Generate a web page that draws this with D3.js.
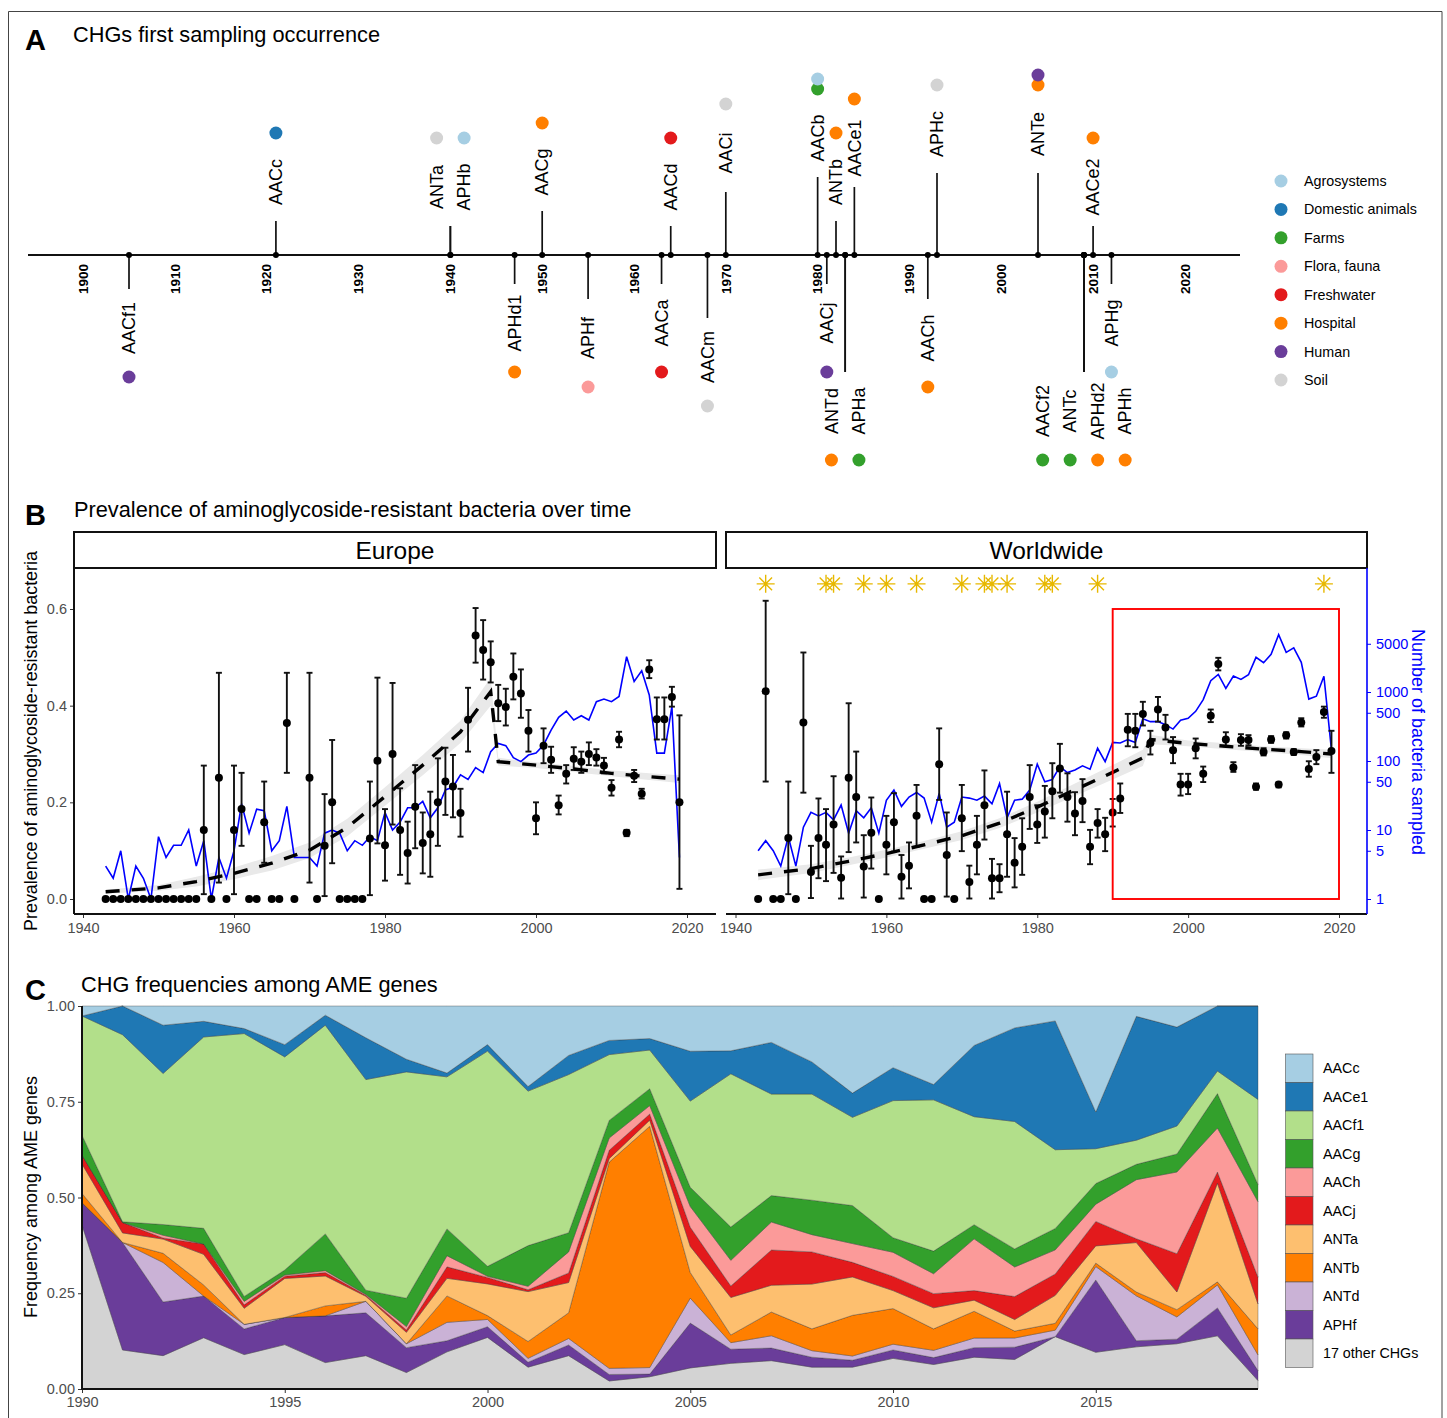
<!DOCTYPE html>
<html>
<head>
<meta charset="utf-8">
<script src="https://cdn.jsdelivr.net/npm/d3@7"></script>
<style>
  body { margin: 0; background: #fff; }
  text { font-family: "Liberation Sans", Arial, sans-serif; }
</style>
</head>
<body>
<svg id="chart" width="1447" height="1418"></svg>
<script>
// panel A: first sampling of each gene
var geneNames = ["AACf1","AACc","ANTa","APHb","APHd1","AACg","APHf","AACa","AACd","AACm","AACi","AACb","AACj","ANTb","ANTd","APHa","AACe1","AACh","APHc","ANTe","AACf2","ANTc","APHd2","APHh","AACe2","APHg"];
var geneYears = [1905,1921,1940,1940,1947,1950,1955,1963,1964,1968,1970,1980,1981,1982,1983,1983,1984,1992,1993,2004,2009,2009,2009,2009,2010,2012];
var geneLevels = [-0.34,0.34,0.29,0.29,-0.29,0.44,-0.44,-0.29,0.29,-0.63,0.63,0.78,-0.29,0.34,-1.17,-1.17,0.68,-0.44,0.82,0.82,-1.17,-1.17,-1.17,-1.17,0.29,-0.29];
var geneHabitats = [["Human"],["Domestic animals"],["Soil"],["Agrosystems"],["Hospital"],["Hospital"],["Flora, fauna"],["Freshwater"],["Freshwater"],["Soil"],["Soil"],["Farms","Agrosystems"],["Human"],["Hospital"],["Hospital"],["Farms"],["Hospital"],["Hospital"],["Soil"],["Hospital","Human"],["Farms"],["Farms"],["Hospital"],["Hospital"],["Hospital"],["Agrosystems"]];
var habitatNames = ["Agrosystems","Domestic animals","Farms","Flora, fauna","Freshwater","Hospital","Human","Soil"];
var habitatColors = ["#A6CEE3","#1F78B4","#33A02C","#FB9A99","#E31A1C","#FF7F00","#6A3D9A","#D3D3D3"];
var timelineTicks = [1900,1910,1920,1930,1940,1950,1960,1970,1980,1990,2000,2010,2020];

// panel B: Europe
var euZeroYears = [1943,1944,1945,1946,1947,1948,1949,1950,1951,1952,1953,1954,1955,1957,1959,1962,1963,1965,1966,1968,1971,1974,1975,1976,1977];
var euYears = [1956,1958,1960,1961,1964,1967,1970,1972,1973,1978,1979,1980,1981,1982,1983,1984,1985,1986,1987,1988,1989,1990,1991,1992,1993,1994,1995,1996,1997,1998,1999,2000,2001,2002,2003,2004,2005,2006,2007,2008,2009,2010,2011,2012,2013,2014,2015,2016,2017,2018,2019];
var euPrev = [.143,.251,.143,.186,.159,.364,.251,.11,.2,.125,.286,.111,.3,.143,.095,.191,.116,.134,.2,.243,.233,.178,.371,.545,.515,.49,.405,.397,.46,.425,.348,.167,.317,.288,.194,.259,.29,.284,.3,.293,.276,.23,.33,.137,.255,.218,.475,.372,.372,.418,.2];
var euLow = [.01,.034,.01,.11,.075,.261,.034,.006,.074,.008,.115,.038,.154,.05,.032,.105,.053,.046,.11,.174,.169,.129,.305,.489,.454,.448,.368,.359,.413,.375,.305,.134,.281,.261,.175,.239,.267,.261,.277,.276,.26,.214,.314,.13,.242,.208,.457,.33,.33,.398,.021];
var euHigh = [.276,.468,.276,.261,.243,.468,.468,.217,.329,.243,.458,.186,.447,.229,.16,.277,.179,.222,.291,.313,.298,.228,.437,.602,.577,.533,.443,.435,.508,.475,.391,.2,.353,.315,.214,.277,.314,.305,.324,.31,.292,.246,.346,.143,.267,.228,.494,.417,.417,.439,.38];
var sampledYears = d3.range(1943, 2020);
var euSampled = [3,2,5,1,3,2,1,8,4,6,6,10,3,7,1,4,2,5,24,9,20,19,5,7,22,4,4,4,3,9,10,9,5,7,6,8,7,18,10,13,21,21,26,15,21,38,42,63,54,80,68,136,180,167,112,98,122,130,171,280,430,530,392,453,392,725,790,725,860,3250,1420,2030,905,130,130,615,4];

// panel B: Worldwide
var wwZeroYears = [1943,1945,1946,1948,1959,1965,1966,1969];
var wwYears = [1944,1947,1949,1950,1951,1952,1953,1954,1955,1956,1957,1958,1960,1961,1962,1963,1964,1967,1968,1970,1971,1972,1973,1974,1975,1976,1977,1978,1979,1980,1981,1982,1983,1984,1985,1986,1987,1988,1989,1990,1991,1992,1993,1994,1995,1996,1997,1998,1999,2000,2001,2002,2003,2004,2005,2006,2007,2008,2009,2010,2011,2012,2013,2014,2015,2016,2017,2018,2019];
var wwPrev = [.43,.126,.365,.056,.126,.112,.154,.044,.251,.211,.067,.137,.112,.159,.046,.069,.172,.279,.091,.167,.035,.112,.194,.043,.043,.134,.075,.108,.211,.154,.181,.223,.27,.211,.177,.203,.108,.157,.134,.179,.208,.35,.348,.383,.323,.392,.355,.308,.237,.237,.312,.259,.379,.486,.33,.272,.329,.329,.232,.304,.33,.237,.339,.304,.365,.269,.294,.387,.306];
var wwLow = [.243,.01,.22,.002,.043,.037,.054,.001,.097,.117,.003,.063,.051,.098,.001,.022,.108,.205,.005,.099,.001,.051,.123,.001,.014,.046,.024,.05,.145,.116,.127,.167,.22,.16,.132,.159,.072,.127,.099,.15,.178,.316,.314,.359,.299,.367,.33,.281,.214,.217,.291,.242,.366,.473,.316,.263,.317,.318,.226,.297,.323,.231,.332,.298,.357,.253,.279,.375,.261];
var wwHigh = [.617,.243,.51,.11,.208,.186,.254,.088,.405,.305,.132,.21,.172,.219,.091,.117,.236,.353,.179,.236,.069,.172,.266,.083,.072,.222,.126,.167,.277,.194,.234,.281,.321,.26,.221,.248,.143,.186,.168,.207,.239,.383,.383,.408,.348,.418,.381,.335,.259,.259,.332,.274,.392,.499,.345,.283,.341,.339,.239,.312,.337,.241,.345,.31,.374,.285,.308,.398,.348];
var wwSampled = [5,7,5,3,8,3,11,18,16,18,14,23,9,19,15,21,9,27,38,22,30,35,29,13,34,11,13,30,29,27,31,24,47,15,27,28,38,90,50,54,83,68,74,85,76,153,98,186,182,204,186,410,372,372,336,290,389,415,525,776,1460,1800,1130,1700,1520,1780,3180,2660,3520,6770,3760,4370,2690,790,870,1690,145];
var starYears = [1944,1952,1953,1957,1960,1964,1970,1973,1974,1976,1981,1982,1988,2018];
var starPrev = 0.652;
var redBoxYears = [1990, 2020];
var redBoxPrev = [0, 0.6];

// fitted segments with their ribbons
var trendYears = [1943,1950,1955,1960,1965,1970,1975,1980,1985,1990,1994,1995,2000,2005,2010,2015,2019];
var euTrend = [.015,.023,.036,.053,.074,.101,.148,.212,.277,.346,.429,.284,.277,.269,.26,.253,.248];
var euTrendLow = [.011,.017,.026,.041,.059,.085,.13,.193,.256,.323,.4,.276,.271,.263,.254,.246,.24];
var euTrendHigh = [.019,.029,.046,.065,.089,.117,.166,.231,.298,.369,.458,.292,.283,.275,.266,.26,.256];
var wwTrend = [.05,.063,.078,.094,.112,.131,.157,.19,.226,.262,.292,.33,.322,.316,.31,.305,.3];
var wwTrendLow = [.039,.054,.07,.086,.104,.122,.147,.179,.213,.247,.275,.32,.316,.31,.304,.298,.291];
var wwTrendHigh = [.061,.072,.086,.102,.12,.14,.167,.201,.239,.277,.309,.34,.328,.322,.316,.312,.309];

// panel C: stacked frequencies, bottom layer first
var freqYears = d3.range(1990, 2020);
var freqNames = ["17 other CHGs","APHf","ANTd","ANTb","ANTa","AACj","AACh","AACg","AACf1","AACe1","AACc"];
var freqColors = ["#D3D3D3","#6A3D9A","#CAB2D6","#FF7F00","#FDBF6F","#E31A1C","#FB9A99","#33A02C","#B2DF8A","#1F78B4","#A6CEE3"];
var freqOther = [.428,.102,.087,.134,.09,.116,.069,.087,.043,.097,.135,.057,.087,.021,.032,.055,.067,.074,.057,.057,.08,.064,.083,.077,.137,.096,.11,.118,.139,.022];
var freqAPHf = [.058,.281,.14,.109,.067,.071,.122,.112,.065,.029,.028,.013,.028,.017,.007,.117,.037,.033,.026,.018,.022,.018,.025,.032,0,.189,.016,.012,.073,.026];
var freqANTd = [0,0,.103,0,.012,0,0,.03,.01,.048,.019,.01,.017,.016,.017,.065,.017,.032,.017,.011,.015,.019,.025,.024,.017,.035,.117,.058,.06,.041];
var freqANTb = [.024,0,.024,.029,0,0,.026,0,0,.069,.01,.044,.067,.539,.63,.067,.02,.062,.057,.106,.093,.056,.07,.018,.018,.009,.01,.019,.008,.068];
var freqANTa = [.077,.025,.037,.08,.042,.102,.078,.013,.03,.046,.083,.13,.079,.009,.016,.068,.098,.07,.117,.1,.047,.055,.029,.03,.073,.045,.129,.046,.258,.065];
var freqAACj = [.023,.027,.003,.027,.009,.006,.009,.003,.006,.03,.017,.005,.025,.022,.016,.05,.03,.092,.084,.038,.037,.037,.025,.06,.056,.064,.01,.1,.029,.07];
var freqAACh = [0,0,.007,0,.009,.003,.005,.002,.009,.029,.003,.009,.055,.032,.022,.054,.067,.073,.045,.049,.063,.052,.135,.077,.063,.045,.154,.213,.115,.197];
var freqAACg = [.052,.002,.028,.041,.013,.013,.096,.011,.074,.07,.026,.106,.05,.046,.044,.05,.087,.069,.09,.099,.038,.059,.037,.047,.056,.054,.04,.047,.09,.045];
var freqAACf1 = [.311,.489,.394,.5,.687,.557,.545,.55,.591,.397,.563,.403,.413,.172,.101,.225,.4,.265,.277,.23,.358,.395,.282,.332,.206,.091,.063,.073,.059,.222];
var freqAACe1 = [0,.075,.126,.041,.013,.032,.026,.109,.033,.01,.017,.012,.05,.037,.03,.13,.06,.135,.084,.063,.086,.04,.186,.244,.337,.096,.323,.258,.17,.244];
var freqAACc = [.026,0,.05,.04,.059,.101,.024,.083,.139,.175,.101,.21,.129,.09,.085,.118,.117,.095,.146,.227,.161,.205,.103,.057,.039,.277,.027,.055,0,0];
var freqSeries = [freqOther,freqAPHf,freqANTd,freqANTb,freqANTa,freqAACj,freqAACh,freqAACg,freqAACf1,freqAACe1,freqAACc];

var svg = d3.select("#chart");
var habitatColor = d3.scaleOrdinal().domain(habitatNames).range(habitatColors);
var tickGrey = "#4d4d4d";

// outer frame runs off the bottom of the page
svg.append("path")
    .attr("d", "M8.5,1418V11.5H1442V1418")
    .attr("fill", "none")
    .attr("stroke", "#444")
    .attr("stroke-width", 1);

function bigLabel(letter, x, y) {
    svg.append("text").text(letter)
        .attr("x", x).attr("y", y)
        .attr("font-size", 29).attr("font-weight", "bold");
}
function panelTitle(txt, x, y) {
    svg.append("text").text(txt)
        .attr("x", x).attr("y", y)
        .attr("font-size", 21.75);
}
bigLabel("A", 25, 50);
panelTitle("CHGs first sampling occurrence", 73, 42);
bigLabel("B", 25, 525);
panelTitle("Prevalence of aminoglycoside-resistant bacteria over time", 74, 517);
bigLabel("C", 25, 1000);
panelTitle("CHG frequencies among AME genes", 81, 992);

/* ---------- A: timeline ---------- */
var timeX = d3.scaleLinear().domain([1894, 2026]).range([28, 1240]);
var levelY = d3.scaleLinear().domain([-1, 1]).range([355, 155]);
var axisY = levelY(0);
var labelGap = 39, dotGap = 88, dotStack = 10, siblingGap = 27.5;

svg.append("line")
    .attr("x1", timeX(1894)).attr("x2", timeX(2026))
    .attr("y1", axisY).attr("y2", axisY)
    .attr("stroke", "#111").attr("stroke-width", 1.8);

svg.selectAll(".yearLabel")
    .data(timelineTicks)
    .enter()
    .append("text")
    .attr("class", "yearLabel")
    .text(function(d) { return d; })
    .attr("transform", function(d) { return "translate(" + timeX(d) + ",279) rotate(-90)"; })
    .attr("text-anchor", "middle")
    .attr("dy", "0.35em")
    .attr("font-size", 13.5)
    .attr("font-weight", "bold");

var genes = geneNames.map(function(name, i) {
    return { name: name, year: geneYears[i], level: geneLevels[i], habitats: geneHabitats[i] };
});
var byYear = d3.group(genes, function(d) { return d.year; });
byYear.forEach(function(list, year) {
    list.forEach(function(g, i) {
        g.x = timeX(year) + (i - (list.length - 1) / 2) * siblingGap;
        g.side = g.level > 0 ? -1 : 1;
        g.stemEnd = levelY(g.level);
    });
});

svg.selectAll(".stem")
    .data(genes)
    .enter()
    .append("line")
    .attr("class", "stem")
    .attr("x1", function(d) { return timeX(d.year); })
    .attr("x2", function(d) { return timeX(d.year); })
    .attr("y1", axisY)
    .attr("y2", function(d) { return d.stemEnd; })
    .attr("stroke", "#111")
    .attr("stroke-width", 1.7);

svg.selectAll(".stemDot")
    .data(genes)
    .enter()
    .append("circle")
    .attr("class", "stemDot")
    .attr("cx", function(d) { return timeX(d.year); })
    .attr("cy", axisY)
    .attr("r", 3)
    .attr("fill", "#000");

svg.selectAll(".geneLabel")
    .data(genes)
    .enter()
    .append("text")
    .attr("class", "geneLabel")
    .text(function(d) { return d.name; })
    .attr("transform", function(d) {
        return "translate(" + d.x + "," + (d.stemEnd + d.side * labelGap) + ") rotate(-90)";
    })
    .attr("text-anchor", "middle")
    .attr("dy", "0.35em")
    .attr("font-size", 18);

genes.forEach(function(g) {
    g.habitats.forEach(function(h, i) {
        svg.append("circle")
            .attr("cx", g.x)
            .attr("cy", g.stemEnd + g.side * (dotGap + i * dotStack))
            .attr("r", 6.5)
            .attr("fill", habitatColor(h));
    });
});

var habitatLegendY = d3.scalePoint().domain(habitatNames).range([181, 380]);
habitatNames.forEach(function(h) {
    svg.append("circle")
        .attr("cx", 1281).attr("cy", habitatLegendY(h))
        .attr("r", 6.5).attr("fill", habitatColor(h));
    svg.append("text").text(h)
        .attr("x", 1304).attr("y", habitatLegendY(h))
        .attr("dy", "0.35em")
        .attr("font-size", 14.3);
});

/* ---------- B: prevalence panels ---------- */
var prevY = d3.scaleLinear().domain([0, 0.6]).range([899, 609]);
var sampledY = d3.scaleLog().domain([1, 1000]).range([899, 692]);
var panelTop = 568, panelBottom = 914;

function styleAxis(g, color, fontSize) {
    g.selectAll("text").attr("fill", color).attr("font-size", fontSize)
        .attr("font-family", '"Liberation Sans", Arial, sans-serif');
    g.selectAll("line").attr("stroke", color === tickGrey ? "#333" : color);
}

function drawPrevalence(opts) {
    var x = d3.scaleLinear().domain([1940, 2020]).range(opts.xRange);

    // strip
    svg.append("rect")
        .attr("x", opts.left).attr("y", 532)
        .attr("width", opts.right - opts.left).attr("height", 36)
        .attr("fill", "#fff").attr("stroke", "#111").attr("stroke-width", 2);
    svg.append("text").text(opts.title)
        .attr("x", (opts.left + opts.right) / 2).attr("y", 559)
        .attr("text-anchor", "middle").attr("font-size", 24.5);

    // ribbon and blue sample counts first
    var ribbon = d3.area()
        .x(function(d) { return x(d.year); })
        .y0(function(d) { return prevY(d.low); })
        .y1(function(d) { return prevY(d.high); });
    var trendRows = trendYears.map(function(y, i) {
        return { year: y, value: opts.trend[i], low: opts.trendLow[i], high: opts.trendHigh[i] };
    });
    svg.append("path").datum(trendRows)
        .attr("d", ribbon).attr("fill", "#e9e9e9");

    var blueLine = d3.line()
        .x(function(d, i) { return x(sampledYears[i]); })
        .y(function(d) { return sampledY(d); });
    svg.append("path").datum(opts.sampled)
        .attr("d", blueLine)
        .attr("fill", "none").attr("stroke", "#0000ff").attr("stroke-width", 1.6);

    // error bars
    var rows = opts.years.map(function(y, i) {
        return { year: y, p: opts.prev[i], low: opts.low[i], high: opts.high[i] };
    });
    var bars = svg.append("g").attr("stroke", "#111").attr("stroke-width", 1.9);
    bars.selectAll("line.bar").data(rows).enter().append("line")
        .attr("class", "bar")
        .attr("x1", function(d) { return x(d.year); })
        .attr("x2", function(d) { return x(d.year); })
        .attr("y1", function(d) { return prevY(d.low); })
        .attr("y2", function(d) { return prevY(d.high); });
    ["low", "high"].forEach(function(k) {
        bars.selectAll("line.cap" + k).data(rows).enter().append("line")
            .attr("class", "cap" + k)
            .attr("x1", function(d) { return x(d.year) - 3; })
            .attr("x2", function(d) { return x(d.year) + 3; })
            .attr("y1", function(d) { return prevY(d[k]); })
            .attr("y2", function(d) { return prevY(d[k]); });
    });

    // points, zero years included
    var pts = rows.map(function(d) { return { year: d.year, p: d.p }; })
        .concat(opts.zeroYears.map(function(y) { return { year: y, p: 0 }; }));
    svg.append("g").selectAll("circle").data(pts).enter().append("circle")
        .attr("cx", function(d) { return x(d.year); })
        .attr("cy", function(d) { return prevY(d.p); })
        .attr("r", 4)
        .attr("fill", "#000");

    // dashed fit on top
    var trendLine = d3.line()
        .x(function(d) { return x(d.year); })
        .y(function(d) { return prevY(d.value); });
    svg.append("path").datum(trendRows)
        .attr("d", trendLine)
        .attr("fill", "none").attr("stroke", "#000")
        .attr("stroke-width", 3.4).attr("stroke-dasharray", "14 12");

    // bottom axis
    var gx = svg.append("g")
        .attr("transform", "translate(0," + panelBottom + ")")
        .call(d3.axisBottom(x).tickValues([1940, 1960, 1980, 2000, 2020]).tickFormat(d3.format("d")).tickSize(4).tickPadding(5));
    gx.select(".domain").remove();
    styleAxis(gx, tickGrey, 14.5);
    svg.append("line")
        .attr("x1", opts.left).attr("x2", opts.right)
        .attr("y1", panelBottom).attr("y2", panelBottom)
        .attr("stroke", "#111").attr("stroke-width", 2);
    return x;
}

var euX = drawPrevalence({
    title: "Europe", left: 74, right: 716, xRange: [83, 687],
    years: euYears, prev: euPrev, low: euLow, high: euHigh, zeroYears: euZeroYears,
    sampled: euSampled, trend: euTrend, trendLow: euTrendLow, trendHigh: euTrendHigh
});
var wwX = drawPrevalence({
    title: "Worldwide", left: 726, right: 1367, xRange: [735.5, 1339],
    years: wwYears, prev: wwPrev, low: wwLow, high: wwHigh, zeroYears: wwZeroYears,
    sampled: wwSampled, trend: wwTrend, trendLow: wwTrendLow, trendHigh: wwTrendHigh
});

// left axis, Europe only
var gyPrev = svg.append("g")
    .attr("transform", "translate(74,0)")
    .call(d3.axisLeft(prevY).tickValues([0, 0.2, 0.4, 0.6]).tickFormat(d3.format(".1f")).tickSize(4).tickPadding(3));
gyPrev.select(".domain").remove();
styleAxis(gyPrev, tickGrey, 14.5);
svg.append("line")
    .attr("x1", 74).attr("x2", 74)
    .attr("y1", panelTop).attr("y2", panelBottom)
    .attr("stroke", "#111").attr("stroke-width", 2);

// right blue axis
var gySampled = svg.append("g")
    .attr("transform", "translate(1367,0)")
    .call(d3.axisRight(sampledY).tickValues([1, 5, 10, 50, 100, 500, 1000, 5000]).tickFormat(d3.format("d")).tickSize(4).tickPadding(5));
gySampled.select(".domain").remove();
styleAxis(gySampled, "#0000ff", 14.5);
svg.append("line")
    .attr("x1", 1367).attr("x2", 1367)
    .attr("y1", panelTop).attr("y2", panelBottom)
    .attr("stroke", "#0000ff").attr("stroke-width", 1.6);

svg.append("text").text("Prevalence of aminoglycoside-resistant bacteria")
    .attr("transform", "translate(31,741) rotate(-90)")
    .attr("text-anchor", "middle").attr("dy", "0.35em").attr("font-size", 17.9);
svg.append("text").text("Number of bacteria sampled")
    .attr("transform", "translate(1418,742) rotate(90)")
    .attr("text-anchor", "middle").attr("dy", "0.35em").attr("font-size", 18)
    .attr("fill", "#0000ff");

// gold stars along the top of Worldwide
var starPath = d3.range(4).map(function(i) {
    var a = i * Math.PI / 4, r = 9;
    return "M" + (-r * Math.cos(a)) + "," + (-r * Math.sin(a)) + "L" + (r * Math.cos(a)) + "," + (r * Math.sin(a));
}).join("");
svg.selectAll(".star")
    .data(starYears)
    .enter()
    .append("path")
    .attr("class", "star")
    .attr("d", starPath)
    .attr("transform", function(d) { return "translate(" + wwX(d) + "," + prevY(starPrev) + ")"; })
    .attr("fill", "none")
    .attr("stroke", "#E7B800")
    .attr("stroke-width", 1.4);

svg.append("rect")
    .attr("x", wwX(redBoxYears[0]))
    .attr("y", prevY(redBoxPrev[1]))
    .attr("width", wwX(redBoxYears[1]) - wwX(redBoxYears[0]))
    .attr("height", prevY(redBoxPrev[0]) - prevY(redBoxPrev[1]))
    .attr("fill", "none")
    .attr("stroke", "#ff0000")
    .attr("stroke-width", 1.9);

/* ---------- C: stacked areas ---------- */
var freqX = d3.scaleLinear().domain([1990, 2019]).range([82, 1258]);
var freqY = d3.scaleLinear().domain([0, 1]).range([1389, 1006]);

var freqTable = freqYears.map(function(y, i) {
    var row = { year: y };
    freqNames.forEach(function(n, j) { row[n] = freqSeries[j][i]; });
    return row;
});
var layers = d3.stack().keys(freqNames).offset(d3.stackOffsetExpand)(freqTable);
var freqArea = d3.area()
    .x(function(d) { return freqX(d.data.year); })
    .y0(function(d) { return freqY(d[0]); })
    .y1(function(d) { return freqY(d[1]); });

svg.selectAll(".layer")
    .data(layers)
    .enter()
    .append("path")
    .attr("class", "layer")
    .attr("d", freqArea)
    .attr("fill", function(d, i) { return freqColors[i]; })
    .attr("stroke", "#333")
    .attr("stroke-opacity", 0.7)
    .attr("stroke-width", 0.5);

var gxFreq = svg.append("g")
    .attr("transform", "translate(0,1389)")
    .call(d3.axisBottom(freqX).tickValues([1990, 1995, 2000, 2005, 2010, 2015]).tickFormat(d3.format("d")).tickSize(4).tickPadding(4));
gxFreq.select(".domain").remove();
styleAxis(gxFreq, tickGrey, 14.5);
var gyFreq = svg.append("g")
    .attr("transform", "translate(82,0)")
    .call(d3.axisLeft(freqY).tickValues([0, 0.25, 0.5, 0.75, 1]).tickFormat(d3.format(".2f")).tickSize(4).tickPadding(3));
gyFreq.select(".domain").remove();
styleAxis(gyFreq, tickGrey, 14.5);
svg.append("path")
    .attr("d", "M82,1006V1389H1258")
    .attr("fill", "none").attr("stroke", "#111").attr("stroke-width", 2);

svg.append("text").text("Frequency among AME genes")
    .attr("transform", "translate(31,1197) rotate(-90)")
    .attr("text-anchor", "middle").attr("dy", "0.35em").attr("font-size", 18);

// legend reads top to bottom, opposite of the stack
var legendNames = freqNames.slice().reverse();
var legendColors = freqColors.slice().reverse();
legendNames.forEach(function(n, i) {
    var top = 1054 + i * 28.5;
    svg.append("rect")
        .attr("x", 1285.5).attr("y", top)
        .attr("width", 27.5).attr("height", 28.5)
        .attr("fill", legendColors[i])
        .attr("stroke", "#555").attr("stroke-width", 0.6);
    svg.append("text").text(n)
        .attr("x", 1323).attr("y", top + 14.2)
        .attr("dy", "0.35em").attr("font-size", 14.3);
});
</script>
</body>
</html>
